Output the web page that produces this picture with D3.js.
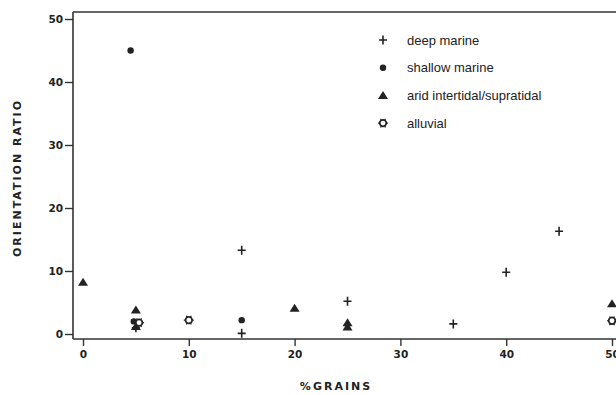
<!DOCTYPE html>
<html>
<head>
<meta charset="utf-8">
<script src="https://cdn.jsdelivr.net/npm/d3@7"></script>
<style>
  body { margin: 0; background: #fff; }
  text { fill: #222; }
</style>
</head>
<body>
<div id="chart"></div>
<script>
// data: [% grains, orientation ratio]
var deepMarine = [[5, 1.0], [15, 13.3], [15, 0.1], [25, 5.2], [35, 1.6], [40, 9.8], [45, 16.3]];
var shallowMarine = [[4.5, 45], [4.8, 2.0], [15, 2.2]];
var aridTidal = [[0, 8.2], [5, 3.8], [5, 1.2], [20, 4.1], [25, 1.8], [25, 1.1], [50, 4.8]];
var alluvial = [[5.3, 1.8], [10, 2.2], [50, 2.1]];
var xTicks = [0, 10, 20, 30, 40, 50];
var yTicks = [0, 10, 20, 30, 40, 50];
var legendLabels = ["deep marine", "shallow marine", "arid intertidal/supratidal", "alluvial"];

var W = 616, H = 395;
var svg = d3.select("#chart").append("svg")
  .attr("width", W).attr("height", H);

var x = d3.scaleLinear().domain([0, 50]).range([83, 612]);
var y = d3.scaleLinear().domain([0, 50]).range([334, 19]);

var axisX = 73, axisY = 339, topY = 12;

// frame lines
svg.append("line").attr("x1", axisX).attr("x2", W + 5).attr("y1", topY).attr("y2", topY)
  .attr("stroke", "#333").attr("stroke-width", 1.6);

// Y axis
var gy = svg.append("g")
  .attr("transform", "translate(" + axisX + ",0)")
  .call(d3.axisLeft(y).tickValues(yTicks).tickSize(8).tickPadding(2).tickSizeOuter(0));
gy.select(".domain").remove();
svg.append("line").attr("x1", axisX).attr("x2", axisX).attr("y1", topY).attr("y2", axisY)
  .attr("stroke", "#333").attr("stroke-width", 1.6);

// X axis
var gx = svg.append("g")
  .attr("transform", "translate(0," + axisY + ")")
  .call(d3.axisBottom(x).tickValues(xTicks).tickSize(7).tickPadding(5).tickSizeOuter(0));
gx.select(".domain").remove();
svg.append("line").attr("x1", axisX).attr("x2", W + 5).attr("y1", axisY).attr("y2", axisY)
  .attr("stroke", "#333").attr("stroke-width", 1.6);

svg.selectAll(".tick line").attr("stroke", "#333").attr("stroke-width", 1.4);
svg.selectAll(".tick text")
  .attr("font-family", "DejaVu Sans, sans-serif")
  .attr("font-weight", "bold")
  .attr("font-size", 10.5)
  .attr("fill", "#222");

// axis titles
svg.append("text")
  .attr("transform", "translate(21,178) rotate(-90)")
  .attr("text-anchor", "middle")
  .attr("font-family", "DejaVu Sans, sans-serif")
  .attr("font-weight", "bold")
  .attr("font-size", 11)
  .attr("letter-spacing", 2)
  .text("ORIENTATION RATIO");

svg.append("text")
  .attr("x", 336).attr("y", 390)
  .attr("text-anchor", "middle")
  .attr("font-family", "DejaVu Sans, sans-serif")
  .attr("font-weight", "bold")
  .attr("font-size", 11)
  .attr("letter-spacing", 2)
  .text("%GRAINS");

// marker drawers
function plus(g, cx, cy) {
  g.append("path")
    .attr("d", "M" + (cx - 4) + "," + cy + "H" + (cx + 4) + "M" + cx + "," + (cy - 4.5) + "V" + (cy + 4.5))
    .attr("stroke", "#222").attr("stroke-width", 1.6).attr("fill", "none");
}
function dot(g, cx, cy) {
  g.append("circle").attr("cx", cx).attr("cy", cy).attr("r", 3.2).attr("fill", "#222");
}
function tri(g, cx, cy) {
  g.append("path")
    .attr("d", "M" + cx + "," + (cy - 4.5) + "L" + (cx + 5) + "," + (cy + 3.5) + "L" + (cx - 5) + "," + (cy + 3.5) + "Z")
    .attr("fill", "#222");
}
function ring(g, cx, cy) {
  g.append("circle").attr("cx", cx).attr("cy", cy).attr("r", 3.3)
    .attr("fill", "#fff").attr("stroke", "#222").attr("stroke-width", 1.7);
  [0, 60, 120, 180, 240, 300].forEach(function(a) {
    var r = a * Math.PI / 180;
    g.append("line")
      .attr("x1", cx + Math.cos(r) * 3.3).attr("y1", cy + Math.sin(r) * 3.3)
      .attr("x2", cx + Math.cos(r) * 5).attr("y2", cy + Math.sin(r) * 5)
      .attr("stroke", "#222").attr("stroke-width", 1.2);
  });
}

var pts = svg.append("g");
aridTidal.forEach(function(d) { tri(pts, x(d[0]), y(d[1])); });
shallowMarine.forEach(function(d) { dot(pts, x(d[0]), y(d[1])); });
alluvial.forEach(function(d) { ring(pts, x(d[0]), y(d[1])); });
deepMarine.forEach(function(d) { plus(pts, x(d[0]), y(d[1])); });

// legend
var drawers = [plus, dot, tri, ring];
var leg = svg.append("g");
legendLabels.forEach(function(lab, i) {
  var ly = 40 + i * 27.7;
  drawers[i](leg, 383, ly);
  leg.append("text")
    .attr("x", 407).attr("y", ly + 4.5)
    .attr("font-family", "Liberation Sans, Arial, sans-serif")
    .attr("font-size", 13)
    .attr("fill", "#222")
    .text(lab);
});
</script>
</body>
</html>
